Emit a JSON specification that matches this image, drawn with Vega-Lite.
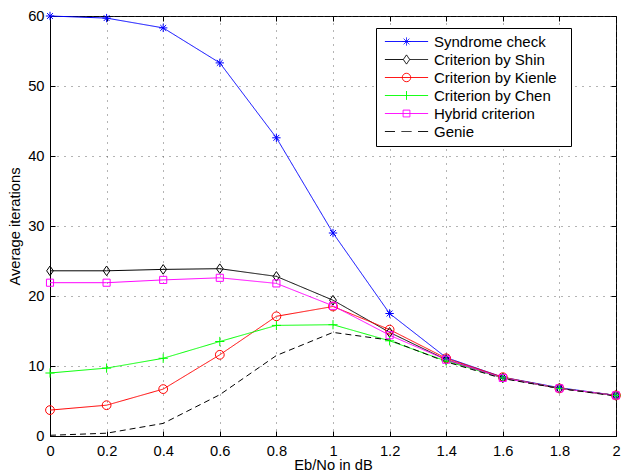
{
  "$schema": "https://vega.github.io/schema/vega-lite/v6.json",
  "width": 566,
  "height": 420,
  "autosize": {"type": "none"},
  "padding": {"left": 50, "top": 16, "right": 5, "bottom": 38},
  "background": "white",
  "config": {
    "font": "Liberation Sans",
    "view": {"stroke": "black", "strokeWidth": 1},
    "axis": {
      "domainColor": "black",
      "domainWidth": 1,
      "tickColor": "black",
      "tickSize": -5,
      "labelFont": "Liberation Sans",
      "labelFontSize": 14.7,
      "labelColor": "black",
      "titleFont": "Liberation Sans",
      "titleFontSize": 14.7,
      "titleFontWeight": "normal",
      "titleColor": "black",
      "gridColor": "#444444",
      "gridOpacity": 0.8,
      "gridDash": [1, 6],
      "gridWidth": 1
    }
  },
  "data": {
    "values": [
      {"snr": 0.0, "iter": 60.0, "series": "Syndrome check"},
      {"snr": 0.2, "iter": 59.7, "series": "Syndrome check"},
      {"snr": 0.4, "iter": 58.3, "series": "Syndrome check"},
      {"snr": 0.6, "iter": 53.3, "series": "Syndrome check"},
      {"snr": 0.8, "iter": 42.6, "series": "Syndrome check"},
      {"snr": 1.0, "iter": 29.0, "series": "Syndrome check"},
      {"snr": 1.2, "iter": 17.5, "series": "Syndrome check"},
      {"snr": 1.4, "iter": 11.2, "series": "Syndrome check"},
      {"snr": 1.6, "iter": 8.4, "series": "Syndrome check"},
      {"snr": 1.8, "iter": 6.9, "series": "Syndrome check"},
      {"snr": 2.0, "iter": 5.8, "series": "Syndrome check"},
      {"snr": 0.0, "iter": 23.6, "series": "Criterion by Shin"},
      {"snr": 0.2, "iter": 23.6, "series": "Criterion by Shin"},
      {"snr": 0.4, "iter": 23.8, "series": "Criterion by Shin"},
      {"snr": 0.6, "iter": 23.9, "series": "Criterion by Shin"},
      {"snr": 0.8, "iter": 22.8, "series": "Criterion by Shin"},
      {"snr": 1.0, "iter": 19.4, "series": "Criterion by Shin"},
      {"snr": 1.2, "iter": 14.8, "series": "Criterion by Shin"},
      {"snr": 1.4, "iter": 10.9, "series": "Criterion by Shin"},
      {"snr": 1.6, "iter": 8.3, "series": "Criterion by Shin"},
      {"snr": 1.8, "iter": 6.8, "series": "Criterion by Shin"},
      {"snr": 2.0, "iter": 5.8, "series": "Criterion by Shin"},
      {"snr": 0.0, "iter": 3.7, "series": "Criterion by Kienle"},
      {"snr": 0.2, "iter": 4.4, "series": "Criterion by Kienle"},
      {"snr": 0.4, "iter": 6.7, "series": "Criterion by Kienle"},
      {"snr": 0.6, "iter": 11.6, "series": "Criterion by Kienle"},
      {"snr": 0.8, "iter": 17.1, "series": "Criterion by Kienle"},
      {"snr": 1.0, "iter": 18.5, "series": "Criterion by Kienle"},
      {"snr": 1.2, "iter": 15.2, "series": "Criterion by Kienle"},
      {"snr": 1.4, "iter": 11.1, "series": "Criterion by Kienle"},
      {"snr": 1.6, "iter": 8.4, "series": "Criterion by Kienle"},
      {"snr": 1.8, "iter": 6.8, "series": "Criterion by Kienle"},
      {"snr": 2.0, "iter": 5.8, "series": "Criterion by Kienle"},
      {"snr": 0.0, "iter": 9.0, "series": "Criterion by Chen"},
      {"snr": 0.2, "iter": 9.7, "series": "Criterion by Chen"},
      {"snr": 0.4, "iter": 11.1, "series": "Criterion by Chen"},
      {"snr": 0.6, "iter": 13.5, "series": "Criterion by Chen"},
      {"snr": 0.8, "iter": 15.8, "series": "Criterion by Chen"},
      {"snr": 1.0, "iter": 15.9, "series": "Criterion by Chen"},
      {"snr": 1.2, "iter": 13.6, "series": "Criterion by Chen"},
      {"snr": 1.4, "iter": 10.7, "series": "Criterion by Chen"},
      {"snr": 1.6, "iter": 8.3, "series": "Criterion by Chen"},
      {"snr": 1.8, "iter": 6.8, "series": "Criterion by Chen"},
      {"snr": 2.0, "iter": 5.8, "series": "Criterion by Chen"},
      {"snr": 0.0, "iter": 21.9, "series": "Hybrid criterion"},
      {"snr": 0.2, "iter": 21.9, "series": "Hybrid criterion"},
      {"snr": 0.4, "iter": 22.3, "series": "Hybrid criterion"},
      {"snr": 0.6, "iter": 22.6, "series": "Hybrid criterion"},
      {"snr": 0.8, "iter": 21.8, "series": "Hybrid criterion"},
      {"snr": 1.0, "iter": 18.6, "series": "Hybrid criterion"},
      {"snr": 1.2, "iter": 14.4, "series": "Hybrid criterion"},
      {"snr": 1.4, "iter": 10.9, "series": "Hybrid criterion"},
      {"snr": 1.6, "iter": 8.3, "series": "Hybrid criterion"},
      {"snr": 1.8, "iter": 6.8, "series": "Hybrid criterion"},
      {"snr": 2.0, "iter": 5.8, "series": "Hybrid criterion"},
      {"snr": 0.0, "iter": 0.1, "series": "Genie"},
      {"snr": 0.2, "iter": 0.4, "series": "Genie"},
      {"snr": 0.4, "iter": 1.8, "series": "Genie"},
      {"snr": 0.6, "iter": 5.9, "series": "Genie"},
      {"snr": 0.8, "iter": 11.5, "series": "Genie"},
      {"snr": 1.0, "iter": 14.8, "series": "Genie"},
      {"snr": 1.2, "iter": 13.7, "series": "Genie"},
      {"snr": 1.4, "iter": 10.6, "series": "Genie"},
      {"snr": 1.6, "iter": 8.2, "series": "Genie"},
      {"snr": 1.8, "iter": 6.8, "series": "Genie"},
      {"snr": 2.0, "iter": 5.7, "series": "Genie"}
    ]
  },
  "resolve": {"axis": {"x": "independent", "y": "independent"}},
  "encoding": {
    "color": {
      "field": "series", "type": "nominal",
      "scale": {
        "domain": ["Syndrome check", "Criterion by Shin", "Criterion by Kienle", "Criterion by Chen", "Hybrid criterion", "Genie"],
        "range": ["#0000ff", "#000000", "#ff0000", "#00ff00", "#ff00ff", "#000000"]
      },
      "legend": {
        "title": "\u00a0",
        "titleOrient": "right",
        "titlePadding": 8,
        "titleFontSize": 15,
        "orient": "none",
        "legendX": 326,
        "legendY": 12,
        "strokeColor": "black",
        "fillColor": "white",
        "padding": 6,
        "rowPadding": 2,
        "labelFont": "Liberation Sans",
        "labelFontSize": 15,
        "labelColor": "black",
        "labelLimit": 300,
        "symbolSize": 64,
        "symbolStrokeWidth": 1,
        "symbolOpacity": 1,
        "symbolOffset": 17,
        "labelOffset": 20,
        "encode": {
          "symbols": {
            "update": {
              "shape": {"signal": "datum.value === 'Syndrome check' ? 'M-5.4,0H5.4M0,-1V1M-1,0H1M-0.7,-0.7L0.7,0.7M-0.7,0.7L0.7,-0.7' : datum.value === 'Criterion by Shin' ? 'M-5.4,0H-0.8M0.8,0H5.4M0,-1.15L0.8,0L0,1.15L-0.8,0Z' : datum.value === 'Criterion by Kienle' ? 'M-5.4,0H5.4M1.05,0A1.05,1.05,0,1,1,-1.05,0A1.05,1.05,0,1,1,1.05,0' : datum.value === 'Criterion by Chen' ? 'M-5.4,0H5.4M0,-1.1V1.1' : datum.value === 'Hybrid criterion' ? 'M-5.4,0H5.4M-0.85,-0.85H0.85V0.85H-0.85Z' : 'M-5.4,0H-2.9M-1.25,0H1.25M2.9,0H5.4'"},
              "stroke": {"scale": "color", "field": "value"},
              "fill": {"value": "transparent"},
              "opacity": {"value": 1},
              "strokeWidth": {"value": 1},
              "strokeDash": {"value": [1, 0]}
            }
          }
        }
      }
    }
  },
  "layer": [
    {
      "mark": {"type": "line", "strokeWidth": 1},
      "encoding": {
        "x": {
          "field": "snr", "type": "quantitative",
          "scale": {"domain": [0, 2], "nice": false},
          "axis": {"title": "Eb/No in dB", "values": [0, 0.2, 0.4, 0.6, 0.8, 1, 1.2, 1.4, 1.6, 1.8, 2], "format": "~g", "labelPadding": 12, "titlePadding": 0, "labelFlush": false}
        },
        "y": {
          "field": "iter", "type": "quantitative",
          "scale": {"domain": [0, 60], "nice": false},
          "axis": {"title": "Average iterations", "values": [0, 10, 20, 30, 40, 50, 60], "labelPadding": 11, "titlePadding": 5, "labelFlush": false}
        },
        "strokeDash": {
          "field": "series", "type": "nominal",
          "scale": {
            "domain": ["Genie", "Syndrome check", "Criterion by Shin", "Criterion by Kienle", "Criterion by Chen", "Hybrid criterion"],
            "range": [[6, 4], [1, 0], [1, 0], [1, 0], [1, 0], [1, 0]]
          },
          "legend": null
        }
      }
    },
    {
      "transform": [{"filter": "datum.series !== 'Genie'"}],
      "mark": {"type": "point", "filled": false, "strokeWidth": 1, "size": 70, "opacity": 1},
      "encoding": {
        "x": {"field": "snr", "type": "quantitative", "axis": null},
        "y": {"field": "iter", "type": "quantitative", "axis": null},
        "shape": {
          "field": "series", "type": "nominal",
          "scale": {
            "domain": ["Genie", "Syndrome check", "Criterion by Shin", "Criterion by Kienle", "Criterion by Chen", "Hybrid criterion"],
            "range": [
              "M0,0",
              "M0,-1V1M-1,0H1M-0.7,-0.7L0.7,0.7M-0.7,0.7L0.7,-0.7",
              "M0,-1.15L0.8,0L0,1.15L-0.8,0Z",
              "M1.05,0A1.05,1.05,0,1,1,-1.05,0A1.05,1.05,0,1,1,1.05,0",
              "M0,-1.1V1.1M-1.1,0H1.1",
              "M-0.85,-0.85H0.85V0.85H-0.85Z"
            ]
          },
          "legend": null
        }
      }
    },
    {
      "mark": {"type": "point", "opacity": 0},
      "encoding": {
        "x": {
          "field": "snr", "type": "quantitative",
          "axis": {"orient": "top", "title": null, "labels": false, "grid": false, "domain": false, "values": [0, 0.2, 0.4, 0.6, 0.8, 1, 1.2, 1.4, 1.6, 1.8, 2]}
        },
        "y": {
          "field": "iter", "type": "quantitative",
          "axis": {"orient": "right", "title": null, "labels": false, "grid": false, "domain": false, "values": [0, 10, 20, 30, 40, 50, 60]}
        }
      }
    }
  ]
}
